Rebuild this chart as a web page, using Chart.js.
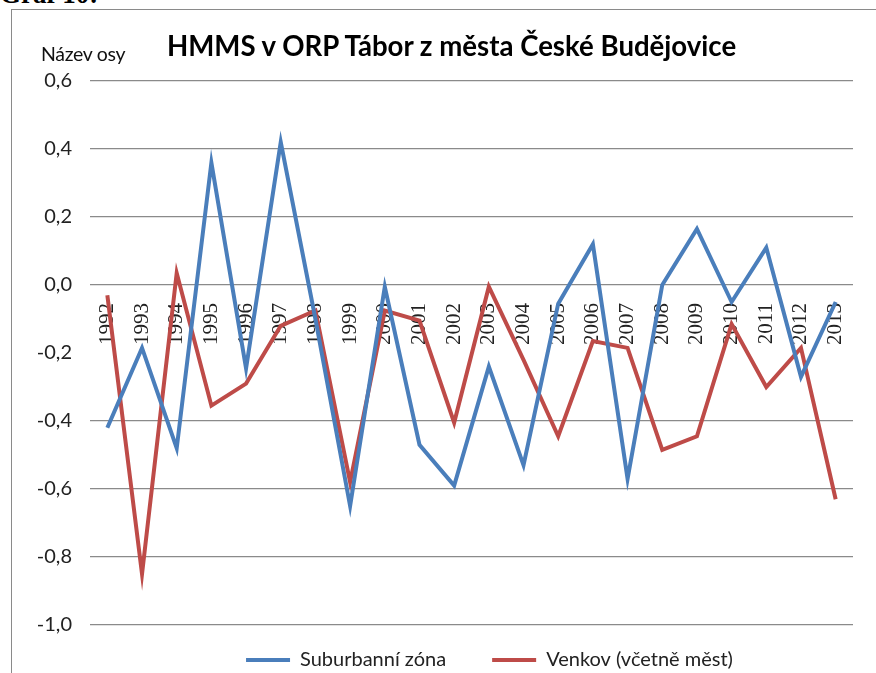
<!DOCTYPE html>
<html>
<head>
<meta charset="utf-8">
<script src="https://cdn.jsdelivr.net/npm/chart.js@4.4.0/dist/chart.umd.min.js"></script>
<style>
  html, body { margin: 0; padding: 0; background: #fff; width: 876px; height: 673px; overflow: hidden; }
  #wrap { position: relative; width: 876px; height: 673px; overflow: hidden; }
  #c { position: absolute; left: 0; top: 0; }
  #frame { position: absolute; left: 11px; top: 9px; width: 900px; height: 700px;
           border-top: 1.5px solid #8a8a8a; border-left: 1.5px solid #8a8a8a; }
  #graf { position: absolute; left: 0px; top: -21px; font: bold 27px "Liberation Serif", serif; color: #000; }
  #title { position: absolute; left: 167px; top: 29px; font: bold 27.6px Lato, sans-serif; color: #000; white-space: nowrap; }
  #axisname { position: absolute; left: 41px; top: 42px; font: 19.5px Lato, sans-serif; color: #111; white-space: nowrap; letter-spacing: -0.3px; }
</style>
</head>
<body>
<div id="wrap">
  <div id="frame"></div>
  <div id="graf">Graf 10:</div>
  <canvas id="c" width="876" height="702"></canvas>
  <div id="title">HMMS v ORP Tábor z města České Budějovice</div>
  <div id="axisname">Název osy</div>
</div>
<script>
const years = ['1992','1993','1994','1995','1996','1997','1998','1999','2000','2001','2002',
               '2003','2004','2005','2006','2007','2008','2009','2010','2011','2012','2013'];
const seriesNames = ['Suburbanní zóna', 'Venkov (včetně měst)'];
const suburbanni = [-0.42, -0.185, -0.48, 0.36, -0.245, 0.42, -0.10, -0.65, -0.005, -0.47, -0.59,
                    -0.24, -0.53, -0.055, 0.12, -0.57, 0.0, 0.165, -0.05, 0.11, -0.27, -0.05];
const venkov = [-0.03, -0.85, 0.035, -0.355, -0.29, -0.12, -0.075, -0.58, -0.075, -0.105, -0.405,
                -0.005, -0.22, -0.445, -0.165, -0.185, -0.485, -0.445, -0.115, -0.30, -0.185, -0.63];
const yMin = -1.0, yMax = 0.6, yStep = 0.2;
const hiddenGridValue = -0.2;

const legendShift = {
  id: 'legendShift',
  afterLayout(chart) {
    const l = chart.legend;
    if (!l) return;
    const dx = 18, dy = -21;
    l.left += dx; l.right += dx; l.top += dy; l.bottom += dy;
  }
};

new Chart(document.getElementById('c'), {
  type: 'line',
  data: {
    labels: years,
    datasets: [
      { label: seriesNames[0], data: suburbanni, borderColor: '#4A7EBB', backgroundColor: '#4A7EBB',
        borderWidth: 4, pointRadius: 0, pointHoverRadius: 0, tension: 0, fill: false },
      { label: seriesNames[1], data: venkov, borderColor: '#BE4B48', backgroundColor: '#BE4B48',
        borderWidth: 4, pointRadius: 0, pointHoverRadius: 0, tension: 0, fill: false }
    ]
  },
  options: {
    responsive: false,
    animation: false,
    devicePixelRatio: 1,
    layout: { padding: { top: 81, left: 0, right: 23, bottom: 1 } },
    plugins: {
      title: { display: false },
      tooltip: { enabled: false },
      legend: {
        position: 'bottom',
        fullSize: false,
        labels: {
          usePointStyle: true,
          pointStyle: 'line',
          pointStyleWidth: 44,
          boxHeight: 4,
          padding: 46,
          color: '#222',
          font: { family: 'Lato, sans-serif', size: 20 }
        }
      }
    },
    scales: {
      x: {
        type: 'category',
        position: { y: 0 },
        offset: true,
        grid: { display: false, drawTicks: false, tickLength: 0 },
        border: { display: false },
        afterFit: (s) => { s.paddingLeft = 0; s.paddingRight = 0; },
        ticks: {
          autoSkip: false, maxRotation: 90, minRotation: 90, padding: 18,
          color: '#222',
          font: { family: '"Liberation Serif", serif', size: 21 }
        }
      },
      y: {
        min: yMin, max: yMax,
        border: { display: false },
        grid: {
          drawTicks: false,
          lineWidth: 1.2,
          color: (ctx) => (ctx.tick && Math.abs(ctx.tick.value - hiddenGridValue) < 1e-6) ? 'rgba(0,0,0,0)' : '#8a8a8a'
        },
        afterFit: (s) => { s.width = 90; },
        ticks: {
          stepSize: yStep,
          padding: 18,
          color: '#222',
          font: { family: 'Lato, sans-serif', size: 20 },
          callback: (v) => Number(v).toFixed(1).replace('.', ',').replace('-0,0', '0,0')
        }
      }
    }
  },
  plugins: [legendShift]
});
</script>
</body>
</html>
